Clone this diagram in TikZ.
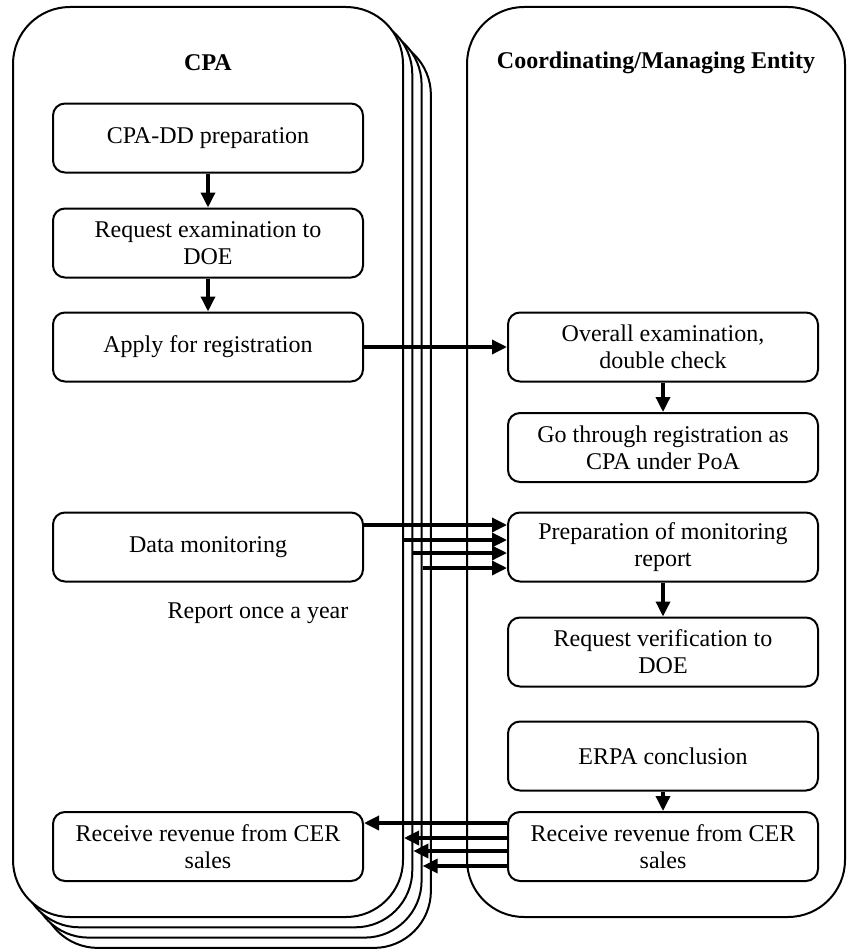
\documentclass[tikz,border=0pt]{standalone}
\usepackage{fontspec}
\setmainfont{Liberation Serif}
\usetikzlibrary{arrows.meta}

\begin{document}
\begin{tikzpicture}[x=1pt,y=-1pt,
  lane/.style={draw, line width=2pt, fill=white, rounded corners=57pt,
    minimum width=390pt, minimum height=910pt, inner sep=0pt},
  stepbox/.style={draw, line width=2pt, fill=white, rounded corners=12pt,
    minimum width=310pt, minimum height=69pt, inner sep=2pt, align=center,
    font=\fontsize{24}{27}\selectfont},
  flow/.style={line width=3.4pt, -{Triangle[length=15pt,width=14pt]}},
  title/.style={font=\fontsize{24}{27}\selectfont\bfseries},
  note/.style={font=\fontsize{24}{27}\selectfont}]
\useasboundingbox (0,0) rectangle (846,950);

% stacked CPA lanes, back to front
\node[lane] (cpa3) at (235.9,492.9) {};
\node[lane] (cpa2) at (226.6,482.6) {};
\node[lane] (cpa1) at (217.3,472.3) {};
\node[lane] (cpa0) at (208,462) {};
% coordinating / managing entity lane
\node[lane, minimum width=378pt] (cme) at (656,462) {};

\node[title] (cpatitle) at (208,63) {CPA};
\node[title] (cmetitle) at (656,63) {Coordinating/Managing Entity};

% CPA side
\node[stepbox] (cpadd) at (208,138) {CPA-DD preparation};
\node[stepbox] (reqdoe) at (208,243) {Request examination to\\DOE};
\node[stepbox] (apply) at (208,347) {Apply for registration};
\node[stepbox] (datamon) at (208,547) {Data monitoring};
\node[note] (yearly) at (258,613) {Report once a year};
\node[stepbox] (recvL) at (208,846.5) {Receive revenue from CER\\sales};

% entity side
\node[stepbox] (overall) at (663,347) {Overall examination,\\double check};
\node[stepbox] (goreg) at (663,447.5) {Go through registration as\\CPA under PoA};
\node[stepbox] (prepmr) at (663,547) {Preparation of monitoring\\report};
\node[stepbox] (reqver) at (663,652) {Request verification to\\DOE};
\node[stepbox] (erpa) at (663,756) {ERPA conclusion};
\node[stepbox] (recvR) at (663,846.5) {Receive revenue from CER\\sales};

% flow within lanes
\draw[flow] (cpadd.south) -- (reqdoe.north);
\draw[flow] (reqdoe.south) -- (apply.north);
\draw[flow] (overall.south) -- (goreg.north);
\draw[flow] (prepmr.south) -- (reqver.north);
\draw[flow] (erpa.south) -- (recvR.north);

% registration request
\draw[flow] (apply.east) -- (overall.west);

% monitoring data from every CPA
\draw[flow] (datamon.east |- 0,525) -- (prepmr.west |- 0,525);
\draw[flow] (cpa0.east |- 0,540) -- (prepmr.west |- 0,540);
\draw[flow] (cpa1.east |- 0,553) -- (prepmr.west |- 0,553);
\draw[flow] (cpa2.east |- 0,568) -- (prepmr.west |- 0,568);

% revenue back to every CPA
\draw[flow] (recvR.west |- 0,823) -- (recvL.east |- 0,823);
\draw[flow] (recvR.west |- 0,838) -- (cpa0.east |- 0,838);
\draw[flow] (recvR.west |- 0,851) -- (cpa1.east |- 0,851);
\draw[flow] (recvR.west |- 0,866) -- (cpa2.east |- 0,866);
\end{tikzpicture}
\end{document}
